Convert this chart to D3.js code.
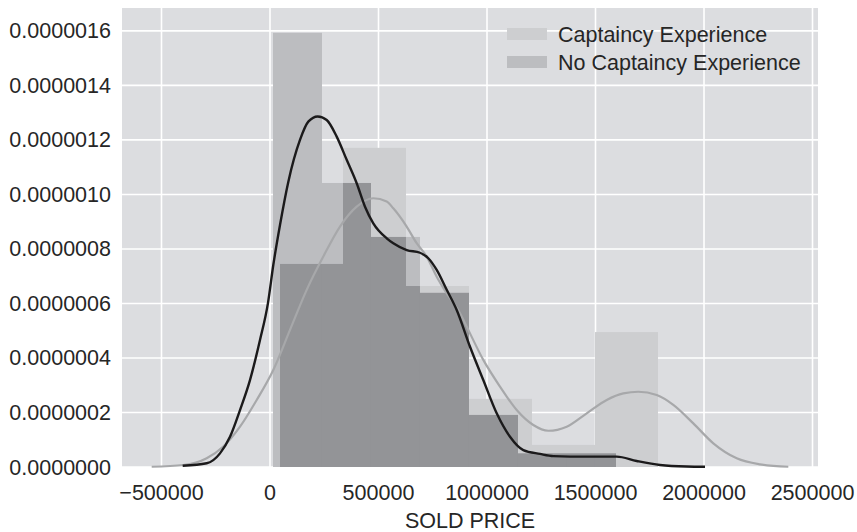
<!DOCTYPE html>
<html>
<head>
<meta charset="utf-8">
<script src="https://cdn.jsdelivr.net/npm/d3@7"></script>
<style>
  body { margin: 0; background: #fff; }
  svg text { font-family: "Liberation Sans", Arial, sans-serif; fill: #262626; }
</style>
</head>
<body>
<svg width="857" height="532"></svg>
<script>
// histogram bins (edges) and densities
var captEdges = [46100, 336400, 626700, 917000, 1207300, 1497600, 1788000];
var captDens = [0.745e-6, 1.171e-6, 0.664e-6, 0.250e-6, 0.081e-6, 0.495e-6];

var noCaptEdges = [13800, 239600, 465400, 691200, 917000, 1142800, 1368600, 1594400];
var noCaptDens = [1.593e-6, 1.042e-6, 0.844e-6, 0.639e-6, 0.191e-6, 0.050e-6, 0.050e-6];

// kde curves (density in units of 1e-6)
var captKdeX = [-545200, -399500, -291700, -215200, -138200, -61300, 15200, 92200, 169100, 245600,
    322600, 399500, 476000, 537800, 568200, 629900, 676000, 722100, 768200, 814300, 875600, 906400,
    982900, 1059900, 1136900, 1213400, 1282500, 1367300, 1459400, 1551600, 1628100, 1697200, 1782000,
    1858500, 1950700, 2042900, 2150700, 2258100, 2388500];
var captKdeY = [0.001, 0.0073, 0.032, 0.075, 0.148, 0.246, 0.356, 0.503, 0.650, 0.772,
    0.882, 0.955, 0.986, 0.974, 0.949, 0.882, 0.821, 0.772, 0.698, 0.637, 0.564, 0.515,
    0.393, 0.295, 0.209, 0.154, 0.133, 0.148, 0.197, 0.246, 0.270, 0.276, 0.264,
    0.228, 0.160, 0.087, 0.032, 0.0099, 0.001];

var noCaptKdeX = [-402300, -291700, -230400, -184300, -138200, -92200, -46100, -9200, 15200, 46100,
    84300, 138200, 176500, 219800, 261300, 307400, 353400, 399500, 437800, 476000, 537800, 568200,
    629900, 691200, 729500, 768200, 814300, 860400, 921700, 982900, 1044700, 1106000, 1167300,
    1244200, 1305600, 1459400, 1597700, 1689800, 1797200, 1920200, 2004600];
var noCaptKdeY = [0.0048, 0.0136, 0.050, 0.111, 0.209, 0.319, 0.466, 0.602, 0.741, 0.888,
    1.046, 1.200, 1.267, 1.286, 1.273, 1.212, 1.127, 1.041, 0.955, 0.894, 0.839, 0.821,
    0.796, 0.786, 0.766, 0.723, 0.650, 0.576, 0.441, 0.319, 0.197, 0.111, 0.062,
    0.048, 0.040, 0.038, 0.038, 0.022, 0.0073, 0.0018, 0.001];

var xTicks = [-500000, 0, 500000, 1000000, 1500000, 2000000, 2500000];
var yTicks = [0, 0.2e-6, 0.4e-6, 0.6e-6, 0.8e-6, 1.0e-6, 1.2e-6, 1.4e-6, 1.6e-6];
var seriesNames = ['Captaincy Experience', 'No Captaincy Experience'];

(function() {
    var colors = {
        bg: '#dcdde0',
        capt: '#cdced0',
        noCapt: '#bcbdc0',
        both: '#939497',
        captLine: '#a7a8aa',
        noCaptLine: '#1b1a1b'
    };
    var fontSize = 21.5;

    var pl = 122, pr = 818, pt = 8, pb = 467;

    var x = d3.scaleLinear().domain([-682000, 2525300]).range([pl, pr]);
    var y = d3.scaleLinear().domain([0, 1.684e-6]).range([pb, pt]);

    var svg = d3.select('svg');

    svg.append('rect')
        .attr('x', pl).attr('y', pt)
        .attr('width', pr - pl).attr('height', pb - pt)
        .attr('fill', colors.bg);

    // grid
    svg.append('g').selectAll('line').data(xTicks).enter().append('line')
        .attr('x1', function(d) { return x(d); })
        .attr('x2', function(d) { return x(d); })
        .attr('y1', pt).attr('y2', pb)
        .attr('stroke', '#fff').attr('stroke-width', 1.6);

    svg.append('g').selectAll('line').data(yTicks).enter().append('line')
        .attr('x1', pl).attr('x2', pr)
        .attr('y1', function(d) { return y(d); })
        .attr('y2', function(d) { return y(d); })
        .attr('stroke', '#fff').attr('stroke-width', 1.6);

    function bins(edges, dens) {
        return dens.map(function(v, i) {
            return { x0: edges[i], x1: edges[i + 1], v: v };
        });
    }

    var captBins = bins(captEdges, captDens);
    var noCaptBins = bins(noCaptEdges, noCaptDens);

    // where both histograms overlap
    var overlap = [];
    captBins.forEach(function(a) {
        noCaptBins.forEach(function(b) {
            var x0 = Math.max(a.x0, b.x0), x1 = Math.min(a.x1, b.x1);
            if (x1 > x0) overlap.push({ x0: x0, x1: x1, v: Math.min(a.v, b.v) });
        });
    });

    function drawBars(data, fill) {
        svg.append('g').selectAll('rect').data(data).enter().append('rect')
            .attr('x', function(d) { return x(d.x0); })
            .attr('width', function(d) { return x(d.x1) - x(d.x0); })
            .attr('y', function(d) { return y(d.v); })
            .attr('height', function(d) { return y(0) - y(d.v); })
            .attr('fill', fill);
    }

    drawBars(captBins, colors.capt);
    drawBars(noCaptBins, colors.noCapt);
    drawBars(overlap, colors.both);

    var line = d3.line()
        .x(function(d) { return x(d[0]); })
        .y(function(d) { return y(d[1] * 1e-6); })
        .curve(d3.curveMonotoneX);

    svg.append('path')
        .datum(d3.zip(captKdeX, captKdeY))
        .attr('d', line)
        .attr('fill', 'none')
        .attr('stroke', colors.captLine)
        .attr('stroke-width', 2.2);

    svg.append('path')
        .datum(d3.zip(noCaptKdeX, noCaptKdeY))
        .attr('d', line)
        .attr('fill', 'none')
        .attr('stroke', colors.noCaptLine)
        .attr('stroke-width', 2.4);

    // tick labels
    var fy = d3.format('.7f');
    svg.append('g').selectAll('text').data(yTicks).enter().append('text')
        .attr('x', pl - 11)
        .attr('y', function(d) { return y(d); })
        .attr('dy', '0.35em')
        .attr('text-anchor', 'end')
        .attr('font-size', fontSize)
        .text(function(d) { return fy(d); });

    var fx = d3.format('d');
    svg.append('g').selectAll('text').data(xTicks).enter().append('text')
        .attr('x', function(d) { return x(d); })
        .attr('y', pb + 25)
        .attr('dy', '0.35em')
        .attr('text-anchor', 'middle')
        .attr('font-size', fontSize)
        .text(function(d) { return fx(d); });

    svg.append('text')
        .attr('x', (pl + pr) / 2)
        .attr('y', 520)
        .attr('dy', '0.35em')
        .attr('text-anchor', 'middle')
        .attr('font-size', fontSize)
        .text('SOLD PRICE');

    // legend
    var legend = svg.append('g').selectAll('g')
        .data(seriesNames).enter().append('g')
        .attr('transform', function(d, i) { return 'translate(507,' + (34 + i * 28) + ')'; });

    legend.append('rect')
        .attr('x', 0).attr('y', -6)
        .attr('width', 40).attr('height', 12)
        .attr('fill', function(d, i) { return i === 0 ? colors.capt : colors.noCapt; });

    legend.append('text')
        .attr('x', 51)
        .attr('dy', '0.35em')
        .attr('font-size', fontSize)
        .text(function(d) { return d; });
})();
</script>
</body>
</html>
